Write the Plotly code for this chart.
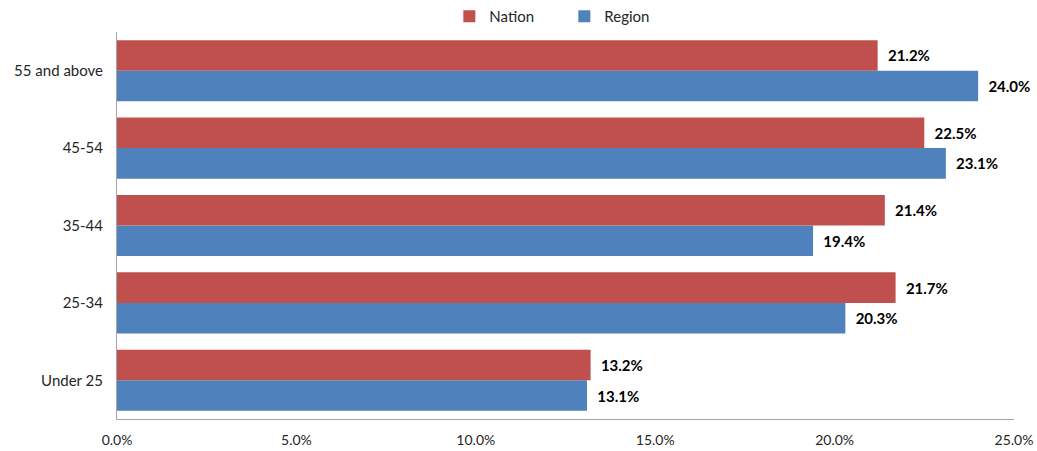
import plotly.graph_objects as go

categories = ["Under 25", "25-34", "35-44", "45-54", "55 and above"]
nation = [13.2, 21.7, 21.4, 22.5, 21.2]
region = [13.1, 20.3, 19.4, 23.1, 24.0]
tick_vals = [0, 5, 10, 15, 20, 25]
tick_text = ["0.0%", "5.0%", "10.0%", "15.0%", "20.0%", "25.0%"]

FONT = "Lato, 'Open Sans', sans-serif"

fig = go.Figure()
fig.add_trace(go.Bar(
    y=categories, x=region, name="Region", orientation="h",
    marker=dict(color="#4F81BD", line=dict(width=0)),
    texttemplate="\u00a0\u00a0%{x:.1f}%", textposition="outside", cliponaxis=False,
    textfont=dict(family=FONT, size=15, color="#000000", weight="bold"),
))
fig.add_trace(go.Bar(
    y=categories, x=nation, name="Nation", orientation="h",
    marker=dict(color="#C0504D", line=dict(width=0)),
    texttemplate="\u00a0\u00a0%{x:.1f}%", textposition="outside", cliponaxis=False,
    textfont=dict(family=FONT, size=15, color="#000000", weight="bold"),
))

fig.update_layout(
    width=1037, height=451,
    margin=dict(l=117, r=23, t=32, b=32, autoexpand=False),
    barmode="group", bargap=0.21, bargroupgap=0,
    plot_bgcolor="white", paper_bgcolor="white",
    font=dict(family=FONT, size=14, color="#262626"),
    legend=dict(orientation="h", yref="container", y=1.0, yanchor="top",
                xref="paper", x=0.3705, xanchor="left",
                traceorder="reversed", font=dict(size=15),
                itemwidth=30, entrywidthmode="pixels", entrywidth=70,
                bgcolor="rgba(0,0,0,0)"),
    xaxis=dict(range=[0, 25], tickvals=tick_vals, ticktext=tick_text, automargin=False,
               showgrid=False, zeroline=False, showline=True, linecolor="#A6A6A6",
               linewidth=1, ticks="", ticklabelstandoff=8, tickfont=dict(size=14)),
    yaxis=dict(showgrid=False, showline=True, linecolor="#A6A6A6", linewidth=1,
               automargin=False,
               ticks="", ticklen=0, ticklabelstandoff=10, tickfont=dict(size=15),
               categoryorder="array", categoryarray=categories),
)

fig.write_html("out.html")
